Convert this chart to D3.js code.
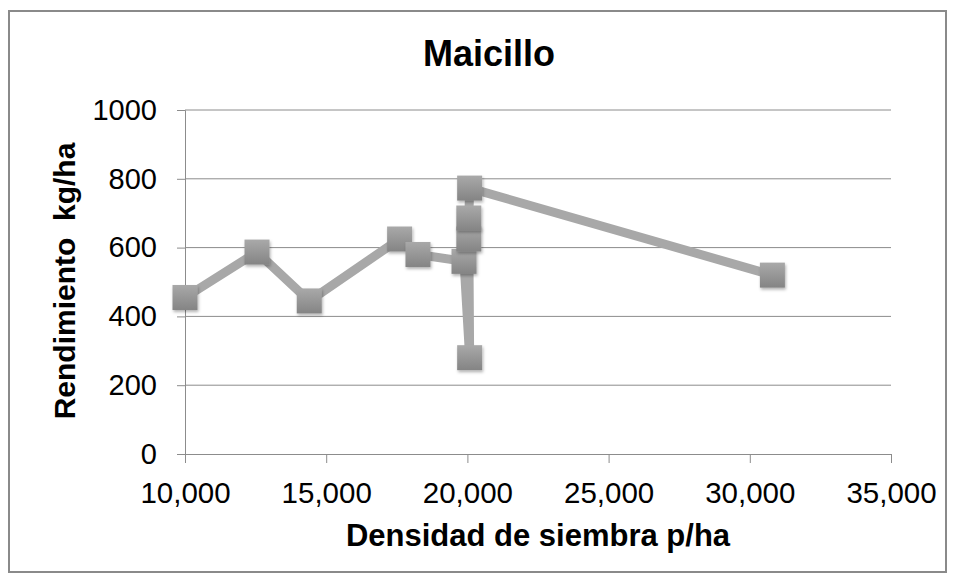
<!DOCTYPE html>
<html><head><meta charset="utf-8">
<script src="https://cdn.jsdelivr.net/npm/d3@7"></script>
<style>body{margin:0;background:#fff}svg text{font-family:"Liberation Sans",Arial,sans-serif}</style>
</head><body><svg id="c" width="956" height="582"></svg>
<script>
const density = [10000, 12550, 14400, 17600, 18250, 19880, 20080, 20050, 20050, 20080, 30800];
const yieldKg = [455, 587, 445, 625, 580, 560, 280, 625, 686, 773, 520];
const xTicks = [10000, 15000, 20000, 25000, 30000, 35000];
const yTicks = [0, 200, 400, 600, 800, 1000];
const title = "Maicillo";
const xTitle = "Densidad de siembra p/ha";
const yTitle = "Rendimiento  kg/ha";

const svg = d3.select("#c");
const L = 185, R = 891, T = 110, B = 454;
const x = d3.scaleLinear().domain([10000, 35000]).range([L, R]);
const y = d3.scaleLinear().domain([0, 1000]).range([B, T]);

svg.append("rect").attr("x", 9).attr("y", 11).attr("width", 937).attr("height", 561)
  .attr("fill", "#fff").attr("stroke", "#8a8a8a").attr("stroke-width", 2);

const defs = svg.append("defs");
const g = defs.append("linearGradient").attr("id", "mg").attr("x1", 0).attr("y1", 0).attr("x2", 0).attr("y2", 1);
g.append("stop").attr("offset", "0%").attr("stop-color", "#a9a9a9");
g.append("stop").attr("offset", "100%").attr("stop-color", "#848484");
const f = defs.append("filter").attr("id", "sh").attr("x", "-50%").attr("y", "-50%").attr("width", "200%").attr("height", "200%");
f.append("feDropShadow").attr("dx", 1).attr("dy", 2).attr("stdDeviation", 1.5).attr("flood-color", "#000").attr("flood-opacity", 0.3);

// gridlines
svg.append("g").selectAll("line").data(yTicks.filter(d => d > 0)).join("line")
  .attr("x1", L).attr("x2", R).attr("y1", d => y(d)).attr("y2", d => y(d))
  .attr("stroke", "#8c8c8c").attr("stroke-width", 1);

// y axis
const ya = svg.append("g").attr("transform", `translate(${L},0)`)
  .call(d3.axisLeft(y).tickValues(yTicks).tickFormat(d3.format("d")).tickSize(8).tickPadding(20));
ya.attr("font-size", null).attr("font-family", null);
ya.select(".domain").attr("stroke", "#8c8c8c");
ya.selectAll(".tick line").attr("stroke", "#8c8c8c");
ya.selectAll("text").style("font-size", "29px").attr("fill", "#000");

// x axis
const xa = svg.append("g").attr("transform", `translate(0,${B})`)
  .call(d3.axisBottom(x).tickValues(xTicks).tickFormat(d3.format(",")).tickSize(9).tickPadding(19));
xa.attr("font-size", null).attr("font-family", null);
xa.select(".domain").attr("stroke", "#8c8c8c");
xa.selectAll(".tick line").attr("stroke", "#8c8c8c");
xa.selectAll("text").style("font-size", "29.5px").attr("fill", "#000");

// line
const pts = density.map((d, i) => [d, yieldKg[i]]);
svg.append("path").datum(pts)
  .attr("d", d3.line().x(d => x(d[0])).y(d => y(d[1])))
  .attr("fill", "none").attr("stroke", "#a8a8a8").attr("stroke-width", 9).attr("stroke-linejoin", "round");

// markers
const s = 25;
svg.append("g").selectAll("rect").data(pts).join("rect")
  .attr("x", d => x(d[0]) - s / 2).attr("y", d => y(d[1]) - s / 2)
  .attr("width", s).attr("height", s).attr("fill", "url(#mg)").attr("filter", "url(#sh)");

svg.append("text").attr("x", 489).attr("y", 66).attr("text-anchor", "middle")
  .style("font-size", "36px").attr("font-weight", "bold").text(title);
svg.append("text").attr("x", 538).attr("y", 546).attr("text-anchor", "middle")
  .style("font-size", "31px").attr("font-weight", "bold").text(xTitle);
svg.append("text").attr("transform", "translate(75,281) rotate(-90)").attr("text-anchor", "middle")
  .style("font-size", "30px").style("white-space", "pre").attr("font-weight", "bold").text(yTitle);
</script></body></html>
